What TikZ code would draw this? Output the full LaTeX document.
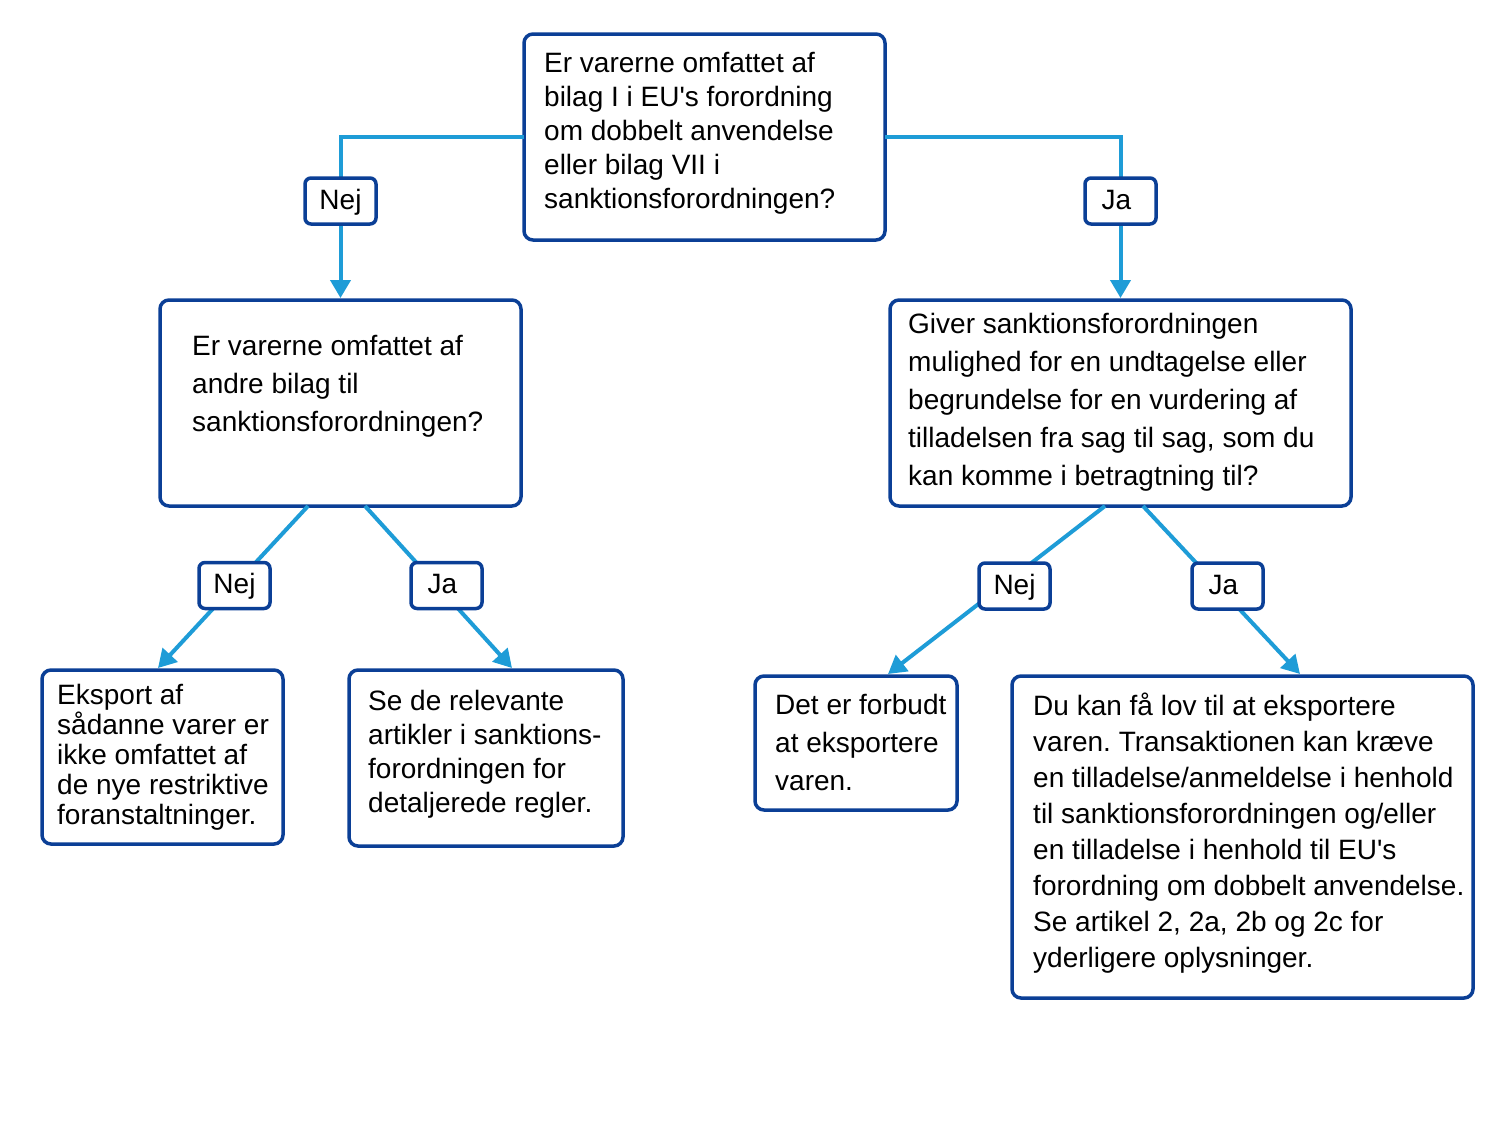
\documentclass[tikz,border=0pt]{standalone}
\usepackage{fontspec}
\setmainfont{Liberation Sans}
\usetikzlibrary{arrows.meta,calc}
\definecolor{bdr}{HTML}{0B3F96}
\definecolor{conn}{HTML}{1E9CD7}
\frenchspacing
\begin{document}
\begin{tikzpicture}[x=1pt,y=-1pt,
  boxnode/.style={draw=bdr, line width=3.5pt, rounded corners=9pt, inner sep=0pt, outer sep=0pt, anchor=north west, fill=white},
  lbl/.style={draw=bdr, line width=3.5pt, rounded corners=6pt, fill=white, inner sep=0pt, outer sep=0pt, minimum width=71pt, minimum height=46pt, text height=22pt, text depth=6pt, font=\fontsize{28}{34}\selectfont},
  txt/.style={inner sep=0pt, anchor=base west, align=left},
  cline/.style={draw=conn, line width=4pt},
  carrow/.style={cline, -{Triangle[width=20pt,length=18pt]}}]
\useasboundingbox (0,0) rectangle (1511,1120);
% boxes
\node[boxnode, minimum width=361pt, minimum height=206pt] (q1) at (524,34) {};
\node[boxnode, minimum width=361pt, minimum height=206pt] (q2) at (160,300) {};
\node[boxnode, minimum width=461pt, minimum height=206pt] (q3) at (890,300) {};
\node[boxnode, minimum width=241pt, minimum height=174pt] (b1) at (42,670) {};
\node[boxnode, minimum width=274pt, minimum height=176pt] (b2) at (349,670) {};
\node[boxnode, minimum width=202pt, minimum height=134pt] (b3) at (755,676) {};
\node[boxnode, minimum width=461pt, minimum height=322pt] (b4) at (1012,676) {};
% connectors
\draw[carrow] (q1.west) -| ($(q2.north)+(0,-2)$);
\draw[carrow] (q1.east) -| ($(q3.north)+(0,-2)$);
\draw[carrow] ($(q2.south west)+(148,0)$) -- ($(b1.north west)+(116,-2)$);
\draw[carrow] ($(q2.south west)+(205,0)$) -- ($(b2.north west)+(163,-2)$);
\draw[carrow] ($(q3.south west)+(215,0)$) -- ($(b3.north west)+(133,-2)$);
\draw[carrow] ($(q3.south west)+(253,0)$) -- ($(b4.north west)+(288,-2)$);
% labels
\node[lbl] (nej1) at (340.5,201) {Nej};
\node[lbl] (ja1) at (1120.5,201) {Ja\hspace*{8pt}};
\node[lbl] (nej2) at (234.5,585.5) {Nej};
\node[lbl] (ja2) at (446.5,585.5) {Ja\hspace*{8pt}};
\node[lbl] (nej3) at (1014.5,586) {Nej};
\node[lbl] (ja3) at (1227.5,586) {Ja\hspace*{8pt}};
% texts
\node[txt, font=\fontsize{28}{34}\selectfont] (q1t) at (544,72) {\parbox[t]{340pt}{Er varerne omfattet af\\bilag I i EU\textquotesingle s forordning\\om dobbelt anvendelse\\eller bilag VII i\\sanktionsforordningen?}};
\node[txt, font=\fontsize{28}{38}\selectfont] (q2t) at (192,355) {\parbox[t]{320pt}{Er varerne omfattet af\\andre bilag til\\sanktionsforordningen?}};
\node[txt, font=\fontsize{28}{38}\selectfont] (q3t) at (908,333) {\parbox[t]{440pt}{Giver sanktionsforordningen\\mulighed for en undtagelse eller\\begrundelse for en vurdering af\\tilladelsen fra sag til sag, som du\\kan komme i betragtning til?}};
\node[txt, font=\fontsize{28}{30}\selectfont] (b1t) at (57,704) {\parbox[t]{230pt}{Eksport af\\sådanne varer er\\ikke omfattet af\\de nye restriktive\\foranstaltninger.}};
\node[txt, font=\fontsize{28}{34}\selectfont] (b2t) at (368,710) {\parbox[t]{250pt}{Se de relevante\\artikler i sanktions-\\forordningen for\\detaljerede regler.}};
\node[txt, font=\fontsize{28}{38}\selectfont] (b3t) at (775,714) {\parbox[t]{190pt}{Det er forbudt\\at eksportere\\varen.}};
\node[txt, font=\fontsize{28}{36}\selectfont] (b4t) at (1033,715) {\parbox[t]{440pt}{Du kan få lov til at eksportere\\varen. Transaktionen kan kræve\\en tilladelse/anmeldelse i henhold\\til sanktionsforordningen og/eller\\en tilladelse i henhold til EU\textquotesingle s\\forordning om dobbelt anvendelse.\\Se artikel 2, 2a, 2b og 2c for\\yderligere oplysninger.}};
\end{tikzpicture}
\end{document}
